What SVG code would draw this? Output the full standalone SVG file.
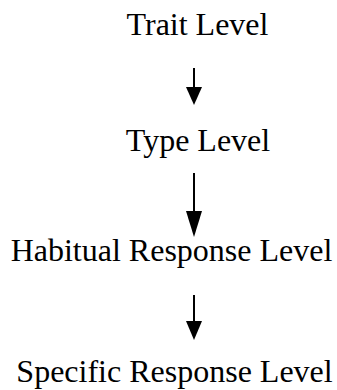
<svg xmlns="http://www.w3.org/2000/svg" width="337" height="390" viewBox="0 0 337 390">
<defs>
<style>
.t{font-family:"Liberation Serif","Times New Roman",serif;font-size:32px;fill:#000;text-anchor:middle}
.c{stroke:#000;stroke-width:2;fill:none}
.h{fill:#000}
</style>
</defs>
<rect width="337" height="390" fill="#fff"/>
<g id="n1"><text class="t" x="197.5" y="35">Trait Level</text></g>
<g id="n2"><text class="t" x="198" y="151">Type Level</text></g>
<g id="n3"><text class="t" x="171.5" y="261">Habitual Response Level</text></g>
<g id="n4"><text class="t" x="174.5" y="382">Specific Response Level</text></g>
<g id="connectors">
<path class="c" d="M194,68 V88"/><path class="h" d="M186,87 H202 L194,105 Z"/>
<path class="c" d="M194,173 V212"/><path class="h" d="M186,211 H202 L194,237 Z"/>
<path class="c" d="M194,295 V322"/><path class="h" d="M186,321 H202 L194,340 Z"/>
</g>
</svg>
